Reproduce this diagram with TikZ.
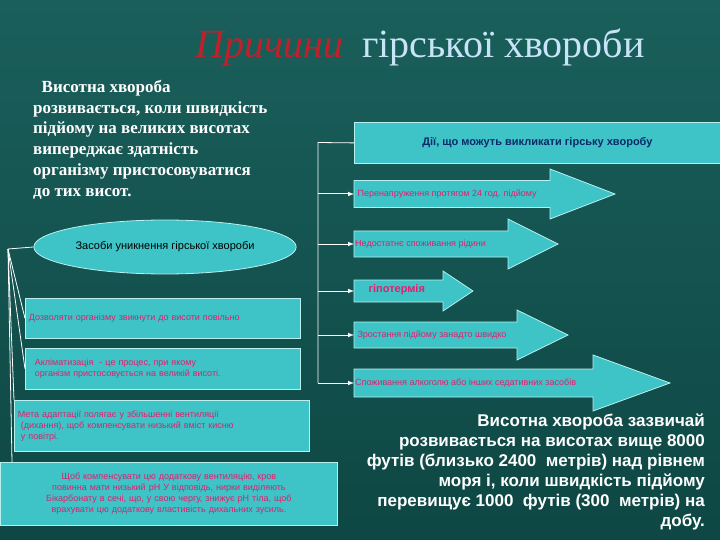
\documentclass[tikz,border=0pt]{standalone}
\usepackage{fontspec}
\setmainfont{Liberation Serif}
\setsansfont{Liberation Sans}
\usetikzlibrary{shapes.geometric}
\definecolor{bg}{HTML}{1A5F5B}
\definecolor{bgd}{HTML}{0E4744}
\definecolor{cy}{HTML}{3EC3C6}
\definecolor{cyb}{HTML}{B8F0F0}
\definecolor{pk}{HTML}{E0206E}
\definecolor{nv}{HTML}{0A2A6A}
\definecolor{ttl}{HTML}{C8E4F8}
\definecolor{rd}{HTML}{C0202A}
\tikzset{
 box/.style={draw=cyb,fill=cy,line width=0.8pt,inner sep=3pt},
 arr/.style={draw=cyb,fill=cy,line width=0.8pt,line join=miter},
 ln/.style={draw=white,line width=0.8pt},
 arl/.style={-latex,draw=white,line width=1pt},
 pt/.style={text=pk,font=\sffamily\fontsize{9}{11}\selectfont}
}
% #1 name, #2 y center, #3 half body, #4 half head, #5 shaft end x, #6 tip x
\newcommand{\bigarrow}[6]{%
 \draw[arr] (354,#2-#3) -- (#5,#2-#3) -- (#5,#2-#4) -- (#6,#2) -- (#5,#2+#4) -- (#5,#2+#3) -- (354,#2+#3) -- cycle;
 \coordinate (#1) at (354,#2);}
\begin{document}
\begin{tikzpicture}[x=1pt,y=-1pt]
\shade[top color=bg,bottom color=bgd] (0,0) rectangle (720,540);
\useasboundingbox (0,0) rectangle (720,540);
% title
\node[anchor=base west,inner sep=0,text=rd,font=\itshape\fontsize{40}{42}\selectfont] (t1) at (195,58) {Причини};
\node[anchor=base west,inner sep=0,text=ttl,font=\fontsize{40}{42}\selectfont] (t2) at (362,58) {гірської хвороби};
% left text
\node[anchor=north west,align=left,text=white,inner sep=0,font=\bfseries\fontsize{17}{20.8}\selectfont] (lt) at (33,80)
 {\ \ Висотна хвороба\\розвивається, коли швидкість\\підйому на великих висотах\\випереджає здатність\\організму пристосовуватися\\до тих висот.};
% top right box
\node[box,minimum width=366,minimum height=41,anchor=north west,text=nv,font=\sffamily\bfseries\fontsize{11}{13}\selectfont] (hb) at (354,122) {Дії, що можуть викликати гірську хворобу};
% arrows
\bigarrow{a1}{194}{13.5}{25}{550}{615}
\node[pt,anchor=west] at (354,194) {Перенапруження протягом 24 год. підйому};
\bigarrow{a2}{244}{13}{25}{508}{558}
\node[pt,anchor=west,inner sep=1pt] at (354,244) {Недостатнє споживання рідини};
\bigarrow{a3}{291}{11}{20}{443}{473}
\node[pt,anchor=west,font=\sffamily\bfseries\fontsize{11}{13}\selectfont] at (365,290) {гіпотермія};
\bigarrow{a4}{335}{13}{25}{517}{568}
\node[pt,anchor=west] at (354,335) {Зростання підйому занадто швидко};
\bigarrow{a5}{383}{14}{28}{593}{670}
\node[pt,anchor=west,inner sep=1pt] at (354,383) {Споживання алкоголю або інших седативних засобів};
% right connectors
\coordinate (rv) at (318,142.5);
\coordinate (rb) at (318,383);
\draw[ln] (hb.west) -- (rv) -- (rb);
\draw[arl] (318,194) -- (a1);
\draw[arl] (318,244) -- (a2);
\draw[arl] (318,291) -- (a3);
\draw[arl] (318,335) -- (a4);
\draw[arl] (rb) -- (a5);
% ellipse
\node[ellipse,draw=cyb,fill=cy,line width=0.8pt,minimum width=256,minimum height=54,font=\sffamily\fontsize{11}{13}\selectfont] (el) at (165,247) {Засоби уникнення гірської хвороби};
% left boxes
\node[box,anchor=north west,minimum width=275,minimum height=40,pt,align=left,text width=268] (b1) at (25,298) {Дозволяти організму звикнути до висоти повільно};
\node[box,anchor=north west,minimum width=275,minimum height=41,pt,align=left,text width=268] (b2) at (25,348) {\ \ Акліматизація \ - це процес, при якому\\ \ \ організм пристосовується на великій висоті.};
\node[box,anchor=north west,minimum width=295,minimum height=51,pt,align=left,text width=288] (b3) at (14,400) {Мета адаптації полягає у збільшенні вентиляції\\ \ (дихання), щоб компенсувати низький вміст кисню\\ \ у повітрі.};
\node[box,anchor=north west,minimum width=337,minimum height=63,pt,align=center,text width=330] (b4) at (0,462) {Щоб компенсувати цю додаткову вентиляцію, кров\\повинна мати низький рН У відповідь, нирки виділяють\\Бікарбонату в сечі, що, у свою чергу, знижує рН тіла, щоб\\врахувати цю додаткову властивість дихальних зусиль.};
% left connectors
\coordinate (lo) at (8,249);
\draw[ln] (lo) -- (el.west);
\draw[ln] (lo) -- (b1.west);
\draw[ln] (lo) -- (b2.west);
\draw[ln] (lo) -- (b3.north west);
\draw[ln] (lo) -- (12,462);
% right text
\node[anchor=north east,align=right,text=white,inner sep=0,font=\sffamily\bfseries\fontsize{17}{20}\selectfont] (rt) at (705,414)
 {Висотна хвороба зазвичай\\розвивається на висотах вище 8000\\футів (близько 2400 \ метрів) над рівнем\\моря і, коли швидкість підйому\\перевищує 1000 \ футів (300 \ метрів) на\\добу.};
\end{tikzpicture}
\end{document}
